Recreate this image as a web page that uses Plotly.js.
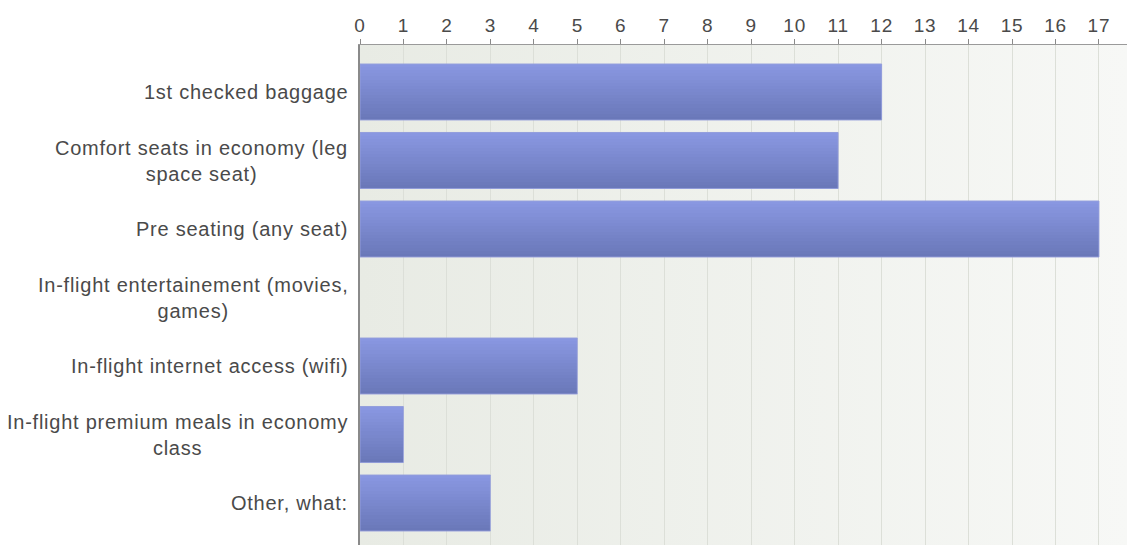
<!DOCTYPE html>
<html>
<head>
<meta charset="utf-8">
<script src="https://cdn.plot.ly/plotly-3.0.1.min.js"></script>
<style>
  html, body { margin: 0; padding: 0; background: #ffffff; }
  #bg { position: absolute; left: 360px; top: 45px; width: 767px; height: 500px;
        background: linear-gradient(to right, #e8ebe4, #f7f8f6); z-index: 0; }
  #chart { position: absolute; left: 0; top: 0; width: 1127px; height: 545px; z-index: 1; }
  .annotation-text { letter-spacing: 0.75px; }
  .xtick text { letter-spacing: 0.8px; }
</style>
</head>
<body>
<div id="bg"></div>
<div id="chart"></div>
<script>
// ---- data ----
const categories = [
  "1st checked baggage",
  "Comfort seats in economy (leg<br>space seat)",
  "Pre seating (any seat)",
  "In-flight entertainement (movies,<br>games)",
  "In-flight internet access (wifi)",
  "In-flight premium meals in economy<br>class",
  "Other, what:"
];
const counts = [12, 11, 17, 0, 5, 1, 3];
const tickValues = [0,1,2,3,4,5,6,7,8,9,10,11,12,13,14,15,16,17];

// ---- styling helpers ----
const yIdx = categories.map((_, i) => i);
const BAR_W = 0.818;
const N = 18;
const cTop = [137, 151, 225];
const cBot = [106, 120, 185];
function mix(t) {
  const c = cTop.map((v, k) => Math.round(v + (cBot[k] - v) * t));
  return `rgb(${c[0]},${c[1]},${c[2]})`;
}
const traces = [];
for (let k = 0; k < N; k++) {
  const t = k / (N - 1);
  traces.push({
    type: 'bar', orientation: 'h',
    x: counts, y: yIdx,
    width: BAR_W / N * 1.08,
    offset: -BAR_W / 2 + k * BAR_W / N,
    marker: { color: mix(t), line: { width: 0 } },
    hoverinfo: 'skip', showlegend: false
  });
}
// outline (none for empty bars)
traces.push({
  type: 'bar', orientation: 'h',
  x: counts, y: yIdx,
  width: BAR_W, offset: -BAR_W / 2,
  marker: { color: 'rgba(0,0,0,0)',
            line: { color: 'rgba(150,160,220,0.9)', width: counts.map(v => v > 0 ? 1 : 0) } },
  hoverinfo: 'skip', showlegend: false
});

const labelFont = { family: '"Liberation Sans", Arial, sans-serif', size: 20, color: '#4a4a4a' };
const annotations = categories.map((c, i) => ({
  xref: 'paper', yref: 'y', x: 0, y: i,
  xanchor: 'right', yanchor: 'middle', xshift: -10,
  align: 'center', showarrow: false,
  text: c, font: labelFont
}));

const layout = {
  width: 1127, height: 545,
  margin: { l: 360, r: 0, t: 45, b: 0, pad: 0 },
  paper_bgcolor: 'rgba(0,0,0,0)',
  plot_bgcolor: 'rgba(0,0,0,0)',
  barmode: 'overlay',
  bargap: 0,
  xaxis: {
    side: 'top', range: [0, 17.645],
    tickmode: 'array', tickvals: tickValues, ticktext: tickValues.map(String),
    ticks: 'outside', ticklen: 5, tickwidth: 1, tickcolor: '#8a8a8a',
    showline: true, linecolor: '#9a9a9a', linewidth: 1.5,
    showgrid: true, gridcolor: '#dcdfd8', gridwidth: 1,
    zeroline: false,
    tickfont: { family: '"Liberation Sans", Arial, sans-serif', size: 19, color: '#4a4a4a' },
    ticklabelstandoff: -1,
    fixedrange: true
  },
  yaxis: {
    range: [6.613, -0.686],
    tickmode: 'array', tickvals: yIdx, showticklabels: false,
    ticks: '', showgrid: false, zeroline: false,
    showline: true, linecolor: '#8a8a8a', linewidth: 2,
    fixedrange: true
  },
  annotations: annotations
};

Plotly.newPlot('chart', traces, layout, { staticPlot: true, displayModeBar: false });
</script>
</body>
</html>
